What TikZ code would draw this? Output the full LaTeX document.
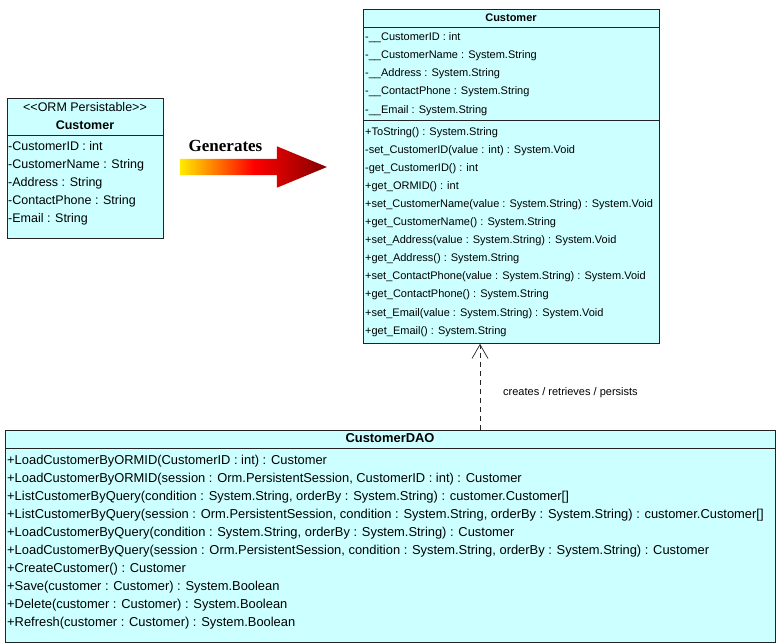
\documentclass[tikz,border=0pt]{standalone}
\usepackage{fontspec}
\usepackage{xcolor}
\usepackage{tikz}
\usetikzlibrary{shapes.arrows, arrows.meta, positioning, calc}
\newfontfamily\umlfont{Liberation Sans}
\newfontfamily\genfont{Liberation Serif}
\newcommand{\ormtext}{\umlfont\fontsize{12.5}{14}\selectfont}
\newcommand{\classtext}{\umlfont\fontsize{11}{13}\selectfont}
\newcommand{\daotext}{\umlfont\fontsize{12.9}{15}\selectfont}
\definecolor{classcyan}{RGB}{204, 255, 255}
\definecolor{lineblack}{RGB}{35, 35, 35}
\definecolor{arrowyellow}{RGB}{255, 235, 0}
\definecolor{arrowdark}{RGB}{130, 0, 0}
\tikzstyle{classbox} = [rectangle, draw=lineblack, fill=classcyan, line width=0.8pt, anchor=north west, inner sep=0pt]
\tikzstyle{divider} = [draw=lineblack, line width=0.8pt]
\tikzstyle{member} = [anchor=west, inner sep=0pt, text height=8.5pt, text depth=2.5pt]
\tikzstyle{classname} = [inner sep=0pt, text height=8.5pt, text depth=2.5pt]
\tikzstyle{depend} = [-{Straight Barb[length=14pt, width=16pt]}, dash pattern=on 5pt off 4pt, line width=0.7pt, draw=lineblack]

\begin{document}
\begin{tikzpicture}[x=1pt, y=1pt]
    \useasboundingbox (0,0) rectangle (779,-643);

    % ORM persistable class
    \begin{scope}[shift={(7,-98)}]
        \node[classbox, minimum width=156pt, minimum height=140pt] (orm) at (0,0) {};
        \node[classname, font=\ormtext] (ormstereo) at (78,-10.5) {<<ORM Persistable>>};
        \node[classname, font=\ormtext\bfseries] (ormname) at (78,-28) {Customer};
        \draw[divider] ([yshift=-37pt]orm.north west) -- ([yshift=-37pt]orm.north east);
        \foreach \m [count=\i] in {-CustomerID : int, -CustomerName : String, -Address : String, -ContactPhone : String, -Email : String}
            \node[member, font=\ormtext] (ormattr\i) at (1,{-49-(\i-1)*18.1}) {\m};
    \end{scope}

    % Generates arrow
    \node[single arrow, minimum height=147pt, single arrow head extend=12.5pt,
          single arrow tip angle=45, inner xsep=0pt, inner ysep=8pt, left color=arrowyellow,
          right color=arrowdark, middle color=red] (genarrow) at (243.5,-167) {};
    \node[font=\genfont\bfseries\fontsize{17}{20}\selectfont, inner sep=0pt] (gentext) at (225.5,-146) {Generates};

    % Generated class
    \begin{scope}[shift={(363,-9)}]
        \node[classbox, minimum width=296pt, minimum height=334pt] (cust) at (0,0) {};
        \node[classname, font=\classtext\bfseries] (custname) at (148,-9) {Customer};
        \draw[divider] ([yshift=-18pt]cust.north west) -- ([yshift=-18pt]cust.north east);
        \draw[divider] ([yshift=-111pt]cust.north west) -- ([yshift=-111pt]cust.north east);
        \foreach \m [count=\i] in {-\_\_CustomerID : int, -\_\_CustomerName : System.String, -\_\_Address : System.String,
                                   -\_\_ContactPhone : System.String, -\_\_Email : System.String}
            \node[member, font=\classtext] (custattr\i) at (2,{-28-(\i-1)*18.3}) {\m};
        \foreach \m [count=\i] in {+ToString() : System.String, -set\_CustomerID(value : int) : System.Void,
                                   -get\_CustomerID() : int, +get\_ORMID() : int,
                                   +set\_CustomerName(value : System.String) : System.Void,
                                   +get\_CustomerName() : System.String,
                                   +set\_Address(value : System.String) : System.Void,
                                   +get\_Address() : System.String,
                                   +set\_ContactPhone(value : System.String) : System.Void,
                                   +get\_ContactPhone() : System.String,
                                   +set\_Email(value : System.String) : System.Void,
                                   +get\_Email() : System.String}
            \node[member, font=\classtext] (custop\i) at (2,{-123-(\i-1)*18.1}) {\m};
    \end{scope}

    % DAO class
    \begin{scope}[shift={(5,-429.5)}]
        \node[classbox, minimum width=770pt, minimum height=212pt] (dao) at (0,0) {};
        \node[classname, font=\daotext\bfseries] (daoname) at (385,-9.5) {CustomerDAO};
        \draw[divider] ([yshift=-19pt]dao.north west) -- ([yshift=-19pt]dao.north east);
        \foreach \m [count=\i] in {+LoadCustomerByORMID(CustomerID : int) : Customer,
                                   {+LoadCustomerByORMID(session : Orm.PersistentSession, CustomerID : int) : Customer},
                                   {+ListCustomerByQuery(condition : System.String, orderBy : System.String) : customer.Customer[]},
                                   {+ListCustomerByQuery(session : Orm.PersistentSession, condition : System.String, orderBy : System.String) : customer.Customer[]},
                                   {+LoadCustomerByQuery(condition : System.String, orderBy : System.String) : Customer},
                                   {+LoadCustomerByQuery(session : Orm.PersistentSession, condition : System.String, orderBy : System.String) : Customer},
                                   +CreateCustomer() : Customer,
                                   +Save(customer : Customer) : System.Boolean,
                                   +Delete(customer : Customer) : System.Boolean,
                                   +Refresh(customer : Customer) : System.Boolean}
            \node[member, font=\daotext] (daoop\i) at (2,{-32-(\i-1)*18}) {\m};
    \end{scope}

    % dependency
    \coordinate (depx) at (480,0);
    \draw[depend] (dao.north -| depx) -- (cust.south -| depx);
    \node[member, font=\classtext] (deplabel) at (503,-392) {creates / retrieves / persists};
\end{tikzpicture}
\end{document}
